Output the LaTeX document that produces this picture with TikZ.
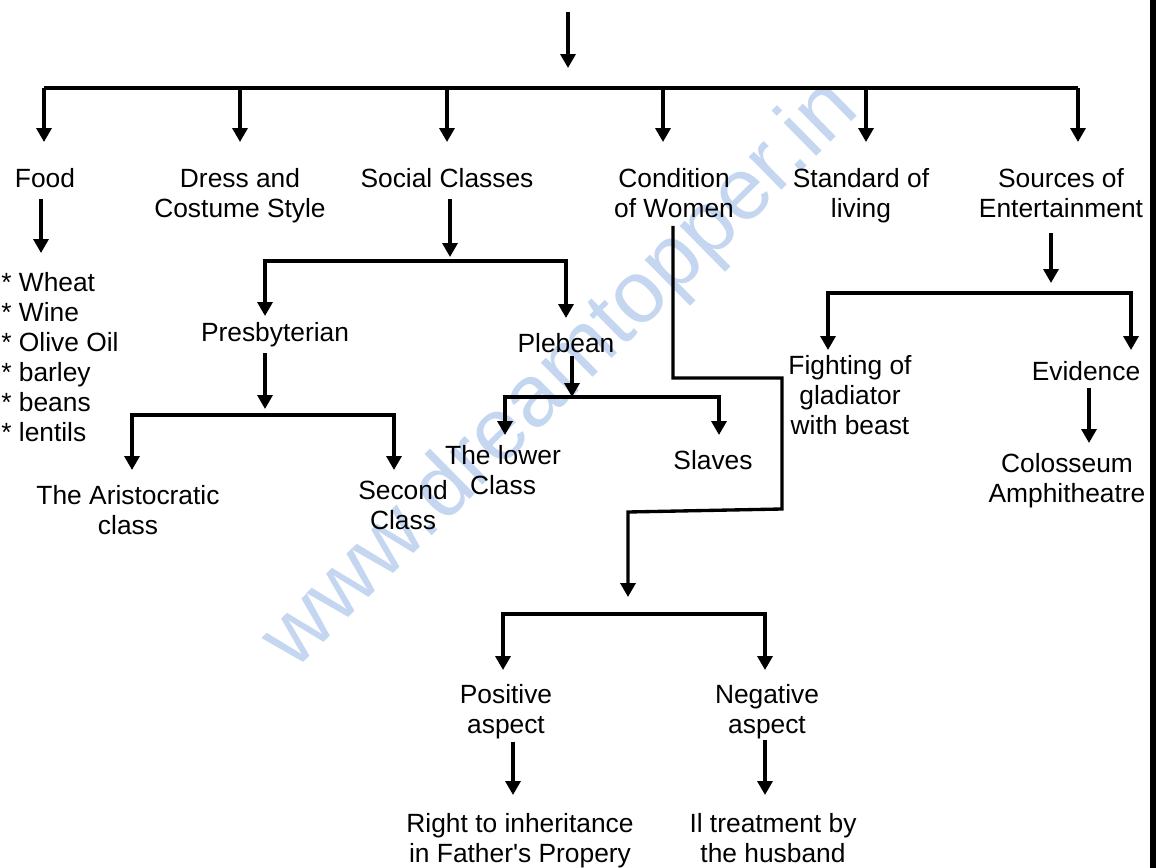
\documentclass[tikz,border=0pt]{standalone}
\usepackage{fontspec}
\setmainfont{Liberation Sans}
\usetikzlibrary{arrows.meta}
\definecolor{wmblue}{RGB}{196,214,240}

\begin{document}
\begin{tikzpicture}[x=0.02cm, y=-0.02cm,
    every node/.style={font=\fontsize{15}{17}\selectfont, inner sep=0pt, anchor=north, align=center},
    ln/.style={line width=1.9pt},
    arr/.style={ln, -{Triangle[length=0.28cm, width=0.3cm]}},
    twin/.style={ln, {Triangle[length=0.28cm, width=0.3cm]}-{Triangle[length=0.28cm, width=0.3cm]}}]

    \useasboundingbox (0,0) rectangle (1156,868);

    \node[anchor=base, rotate=44.6, text=wmblue, font=\fontsize{50}{60}\selectfont] (mark) at (578,392) {www.dreamtopper.in};

    \fill (1150,0) rectangle (1156,868);

    \node (food) at (45,168.5) {Food};
    \node (dress) at (240,168.5) {Dress and\\Costume Style};
    \node (social) at (447,168.5) {Social Classes};
    \node (women) at (674,168.5) {Condition\\of Women};
    \node (living) at (861,168.5) {Standard of\\living};
    \node (fun) at (1061,168.5) {Sources of\\Entertainment};
    \node[anchor=north west, align=left] (items) at (1,272.5) {* Wheat\\* Wine\\* Olive Oil\\* barley\\* beans\\* lentils};
    \node (presby) at (275,322.5) {Presbyterian};
    \node (plebean) at (566,333.5) {Plebean};
    \node (aristo) at (128,485.5) {The Aristocratic\\class};
    \node (second) at (403,480.5) {Second\\Class};
    \node (lower) at (503,445.5) {The lower\\Class};
    \node (slaves) at (713,450.5) {Slaves};
    \node (gladiator) at (850,355.5) {Fighting of\\gladiator\\with beast};
    \node (evidence) at (1086,361.5) {Evidence};
    \node (colosseum) at (1067,453.5) {Colosseum\\Amphitheatre};
    \node (positive) at (506,684.5) {Positive\\aspect};
    \node (negative) at (767,684.5) {Negative\\aspect};
    \node (inherit) at (520,813.5) {Right to inheritance\\in Father\textquotesingle s Propery};
    \node (husband) at (773,813.5) {Il treatment by\\the husband};

    \coordinate (root) at (568,12);
    \coordinate (rootend) at (568,68);
    \coordinate (mainl) at (44,88);
    \coordinate (mainr) at (1078,88);
    \draw[arr] (root) -- (rootend);
    \draw[ln] (mainl) -- (mainr);
    \foreach \x/\n in {44/food,240/dress,447/social,663/women,866/living,1078/fun}{
        \draw[arr, shorten >=0.53cm] (\x,88) -- (\n.north -| \x,88);
    }

    \draw[arr, shorten <=0.21cm, shorten >=0.39cm] (food.south -| 41,0) -- (items.north -| 41,0);

    \coordinate (sj) at (450,261);
    \coordinate (sl) at (265,261);
    \coordinate (sr) at (566,261);
    \draw[arr, shorten <=0.21cm, shorten >=0.08cm] (social.south -| sj) -- (sj);
    \draw[twin, shorten <=0.13cm, shorten >=0.31cm] (presby.north -| sl) -- (sl) -- (sr) -- (plebean.north -| sr);

    \coordinate (pj) at (265,415);
    \coordinate (pl) at (132,415);
    \coordinate (pr) at (394,415);
    \draw[arr, shorten <=0.1cm, shorten >=0.12cm] (presby.south -| pj) -- (pj);
    \draw[twin, shorten <=0.31cm, shorten >=0.21cm] (aristo.north -| pl) -- (pl) -- (pr) -- (second.north -| pr);

    \coordinate (qj) at (572,397);
    \coordinate (ql) at (505,397);
    \coordinate (qr) at (719,397);
    \draw[arr, shorten <=0.05cm] (plebean.south -| qj) -- (qj);
    \draw[twin, shorten <=0.21cm, shorten >=0.31cm] (lower.north -| ql) -- (ql) -- (qr) -- (slaves.north -| qr);

    \coordinate (w1) at (673,378);
    \coordinate (w2) at (782,378);
    \coordinate (w3) at (782,509);
    \coordinate (w4) at (628,512);
    \coordinate (wj) at (628,614);
    \coordinate (wl) at (503,614);
    \coordinate (wr) at (765,614);
    \draw[arr, shorten <=0.15cm, shorten >=0.34cm] (women.south -| w1) -- (w1) -- (w2) -- (w3) -- (w4) -- (wj);
    \draw[twin, shorten <=0.29cm, shorten >=0.29cm] (positive.north -| wl) -- (wl) -- (wr) -- (negative.north -| wr);
    \draw[arr, shorten <=0.04cm, shorten >=0.37cm] (positive.south -| 513,0) -- (inherit.north -| 513,0);
    \draw[arr, shorten >=0.37cm] (negative.south -| 765,0) -- (husband.north -| 765,0);

    \coordinate (fj) at (1051,293);
    \coordinate (fl) at (828,293);
    \coordinate (fr) at (1131,293);
    \draw[arr, shorten <=0.29cm, shorten >=0.2cm] (fun.south -| fj) -- (fj);
    \draw[twin, shorten <=0.11cm, shorten >=0.23cm] (gladiator.north -| fl) -- (fl) -- (fr) -- (evidence.north -| fr);
    \draw[arr, shorten <=0.13cm, shorten >=0.21cm] (evidence.south -| 1089,0) -- (colosseum.north -| 1089,0);

\end{tikzpicture}
\end{document}
